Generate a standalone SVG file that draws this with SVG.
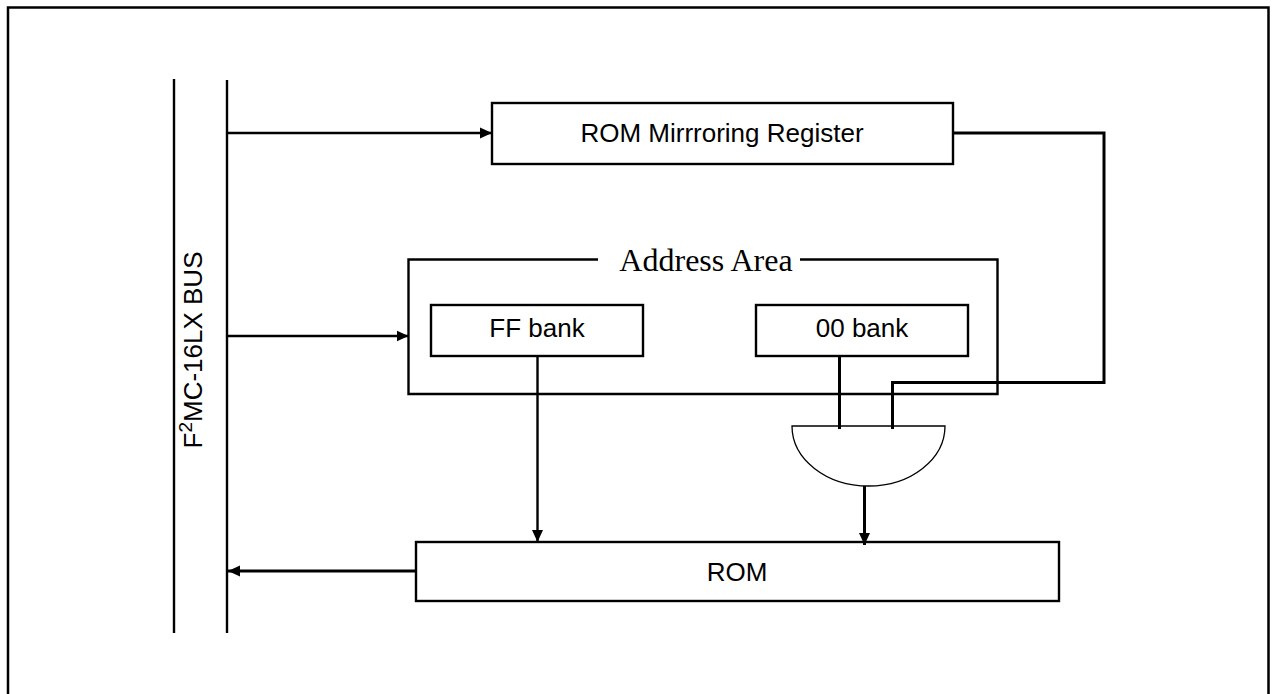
<svg xmlns="http://www.w3.org/2000/svg" width="1276" height="694" viewBox="0 0 1276 694">
<style>
.box{fill:#fff;stroke:#000;stroke-width:2.4}
.ln{fill:none;stroke:#000;stroke-width:2.4}
.thk{fill:none;stroke:#000;stroke-width:3}
.t{font-family:"Liberation Sans",Arial,sans-serif;font-size:26px;fill:#000;text-anchor:middle}
.s{font-family:"Liberation Serif","Times New Roman",serif;font-size:32px;fill:#000;text-anchor:middle}
</style>
<defs>
<marker id="ah" viewBox="0 0 12 12" refX="12" refY="6" markerWidth="12" markerHeight="12" markerUnits="userSpaceOnUse" orient="auto">
<path d="M0,0.5 L12,6 L0,11.5 z" fill="#000"/>
</marker>
</defs>
<rect width="1276" height="694" fill="#fff"/>
<path d="M8,694 V7.5 H1268.5 V694" fill="none" stroke="#000" stroke-width="2.5"/>
<g id="bus">
<line x1="174" y1="79" x2="174" y2="633" class="ln"/>
<line x1="227" y1="80" x2="227" y2="633" class="ln"/>
<text class="t" font-size="27" transform="translate(202,350) rotate(-90)">F<tspan font-size="19" dy="-10">2</tspan><tspan dy="10">MC-16LX BUS</tspan></text>
</g>
<g id="mmr">
<rect x="492" y="103" width="461" height="61" class="box"/>
<text class="t" x="722" y="142">ROM Mirrroring Register</text>
</g>
<g id="address-area">
<path d="M598,259.5 H408.5 V394 H997.5 V259.5 H800" class="ln"/>
<text class="s" x="706" y="271">Address Area</text>
</g>
<g id="ff-bank">
<rect x="431" y="305" width="212" height="51" class="box"/>
<text class="t" x="537" y="337">FF bank</text>
</g>
<g id="00-bank">
<rect x="756" y="305" width="212" height="51" class="box"/>
<text class="t" x="862" y="337">00 bank</text>
</g>
<g id="gate">
<path d="M792,426 H945 A76.5,60 0 0 1 792,426 Z" fill="#fff" stroke="#000" stroke-width="1.3"/>
</g>
<g id="rom">
<rect x="416" y="542" width="643" height="59" class="box"/>
<text class="t" x="737" y="581">ROM</text>
</g>
<g id="connectors">
<line x1="227" y1="133" x2="492" y2="133" class="ln" marker-end="url(#ah)"/>
<line x1="227" y1="336" x2="408.5" y2="336" class="ln" marker-end="url(#ah)"/>
<line x1="416" y1="571" x2="228" y2="571" class="thk" marker-end="url(#ah)"/>
<line x1="537.5" y1="356" x2="537.5" y2="542" class="ln" marker-end="url(#ah)"/>
<line x1="864.5" y1="486" x2="864.5" y2="545" class="thk" marker-end="url(#ah)"/>
<line x1="839.5" y1="356" x2="839.5" y2="429" class="thk"/>
<path d="M952,133 H1104 V382.5 H892.5 V429" class="thk"/>
</g>
</svg>
